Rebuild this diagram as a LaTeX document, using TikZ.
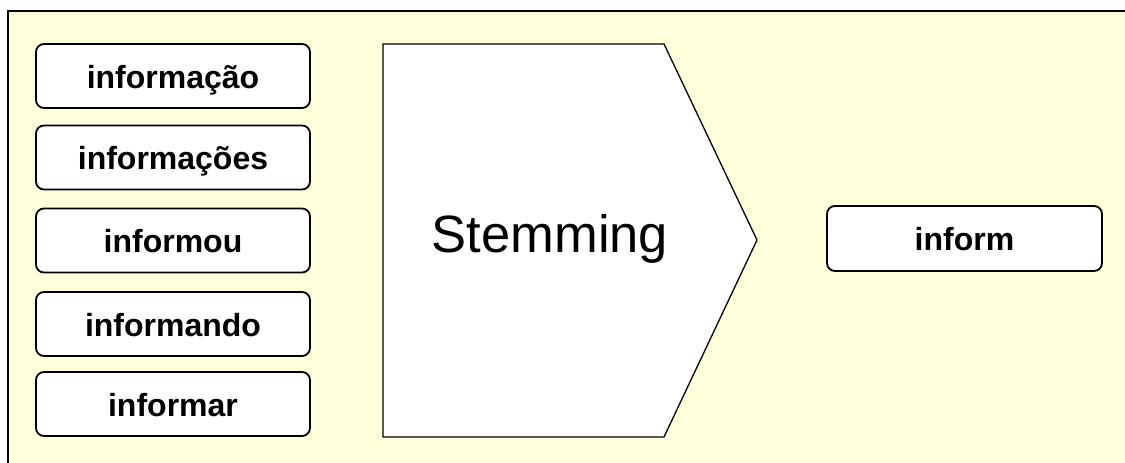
\documentclass[tikz,border=0pt]{standalone}
\usepackage{fontspec}
\setmainfont{Liberation Sans}
\definecolor{bgyellow}{RGB}{255,255,219}
\begin{document}
\begin{tikzpicture}[x=1pt,y=-1pt,
  wordbox/.style={draw=black,line width=1.8pt,fill=white,rounded corners=8pt,
    minimum width=274pt,minimum height=64pt,inner sep=0pt,
    font=\fontsize{32}{36}\selectfont\bfseries,text height=24pt,text depth=0pt}]
\useasboundingbox (0,0) rectangle (1125,463);
\fill[white] (0,0) rectangle (1125,463);
\filldraw[fill=bgyellow,draw=black,line width=2pt] (8,11) rectangle (1135,475);
\node[wordbox] (w1) at (173,76) {informação};
\node[wordbox] (w2) at (173,157.5) {informações};
\node[wordbox] (w3) at (173,240.5) {informou};
\node[wordbox] (w4) at (173,324) {informando};
\node[wordbox] (w5) at (173,404) {informar};
\filldraw[fill=white,draw=black,line width=1.3pt] (383,44) -- (664,44) -- (757,240) -- (664,437) -- (383,437) -- cycle;
\node[anchor=base,font=\fontsize{52.5}{60}\selectfont,inner sep=0pt] (stem) at (550,252) {Stemming};
\node[wordbox,minimum width=275pt,minimum height=65pt] (out) at (964.5,238.5) {inform};
\end{tikzpicture}
\end{document}
